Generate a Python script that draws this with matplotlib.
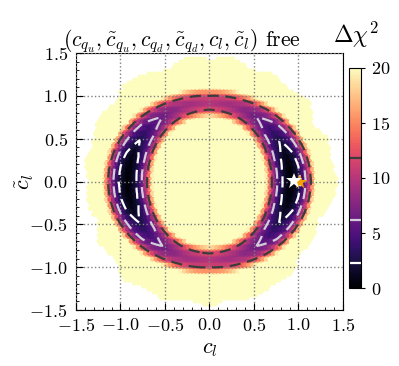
import numpy as np
import matplotlib
matplotlib.use('Agg')
import matplotlib.pyplot as plt

plt.rcParams['font.family'] = 'serif'
plt.rcParams['font.serif'] = ['cmr10']
plt.rcParams['mathtext.fontset'] = 'cm'
plt.rcParams['axes.formatter.use_mathtext'] = True

# --- values ---
# minimum of the valley vs. angle from the c_l axis (degrees)
phi_deg = [0, 10, 20, 32, 42, 55, 70, 90]
chi_min = [0.0, 0.1, 0.6, 2.3, 3.9, 6.18, 8.3, 9.5]
# radial profile across the ring (distance from valley centre -> delta chi2)
ring_r0 = 0.92
d_prof = [0.0, 0.10, 0.16, 0.22, 0.28, 0.60]
chi_prof = [0.0, 2.3, 6.18, 11.83, 20.0, 60.0]
# ring gets thinner towards the c~_l axis
w_phi = [0, 30, 60, 90]
w_scale = [1.0, 0.95, 0.85, 0.8]
# how far the scan reached (outer edge of the filled region)
edge_ang = [0, 10, 20, 30, 40, 50, 60, 70, 80, 90, 100, 110, 120, 130, 140,
            150, 160, 170, 180, 190, 200, 210, 220, 230, 240, 250, 260, 270,
            280, 290, 300, 310, 320, 330, 340, 350, 360]
edge_r = [1.42, 1.36, 1.40, 1.32, 1.44, 1.38, 1.42, 1.36, 1.44, 1.40, 1.45,
          1.36, 1.42, 1.46, 1.38, 1.44, 1.36, 1.40, 1.34, 1.38, 1.32, 1.42,
          1.36, 1.48, 1.40, 1.46, 1.38, 1.43, 1.36, 1.42, 1.38, 1.40, 1.30,
          1.34, 1.28, 1.38, 1.42]
levels = [2.3, 6.18, 11.83]
level_colors = ['#ffffff', '#d2cdd8', '#3c3c3c']
best_fit = (0.953, 0.01)
other_fit = (1.017, 0.0)

# build the delta chi2 map on a grid
g = np.linspace(-1.5, 1.5, 301)
X, Y = np.meshgrid(g, g)
R = np.hypot(X, Y)
ang = np.degrees(np.arctan2(Y, X)) % 360
fold = np.degrees(np.arctan2(np.abs(Y), np.abs(X)))
dist = np.abs(R - ring_r0) / np.interp(fold, w_phi, w_scale)
chi = np.interp(fold, phi_deg, chi_min) + np.interp(dist, d_prof, chi_prof)
inside = R < np.interp(ang, edge_ang, edge_r)

fig = plt.figure(figsize=(3.99, 3.66), dpi=100)
ax = fig.add_axes([0.1905, 0.153, 0.669, 0.702])
cax = fig.add_axes([0.875, 0.213, 0.031, 0.602])

hb = ax.hexbin(X[inside], Y[inside], C=chi[inside], gridsize=75,
               extent=(-1.5, 1.5, -1.5, 1.5), cmap='magma', vmin=0, vmax=20,
               reduce_C_function=np.mean, zorder=1)
cs = ax.contour(X, Y, chi, levels=levels, colors=level_colors,
                linewidths=1.6, linestyles=[(0, (5, 3))], zorder=3)

ax.plot(*other_fit, marker='*', color='#f5a000', ms=11, mew=0, zorder=4)
ax.plot(*best_fit, marker='*', color='white', ms=12, mew=0, zorder=5)

ax.set_xlim(-1.5, 1.5)
ax.set_ylim(-1.5, 1.5)
ax.set_xticks(np.arange(-1.5, 1.51, 0.5))
ax.set_yticks(np.arange(-1.5, 1.51, 0.5))
ax.xaxis.set_minor_locator(matplotlib.ticker.MultipleLocator(0.1))
ax.yaxis.set_minor_locator(matplotlib.ticker.MultipleLocator(0.1))
ax.tick_params(which='both', direction='in', labelsize=13)
ax.tick_params(axis='x', pad=5)
ax.tick_params(axis='y', pad=6)
ax.tick_params(which='major', length=5)
ax.tick_params(which='minor', length=2.5)
ax.grid(True, color='grey', linestyle=':', linewidth=1, zorder=2)
ax.set_axisbelow(False)
ax.set_xlabel(r'$c_l$', fontsize=16)
ax.set_ylabel(r'$\tilde{c}_l$', fontsize=16)
ax.yaxis.set_label_coords(-0.15, 0.5)

cb = fig.colorbar(hb, cax=cax)
cb.add_lines(cs)
cb.set_ticks([0, 5, 10, 15, 20])
cb.ax.tick_params(labelsize=13, length=3)

fig.text(0.158, 0.874, r'$(c_{q_u}, \tilde{c}_{q_u}, c_{q_d}, \tilde{c}_{q_d}, c_l, \tilde{c}_l)$ free',
         fontsize=15.5, va='baseline')
fig.text(0.835, 0.905, r'$\Delta\chi^2$', fontsize=17, va='center')

fig.savefig('out.png', dpi=100)
